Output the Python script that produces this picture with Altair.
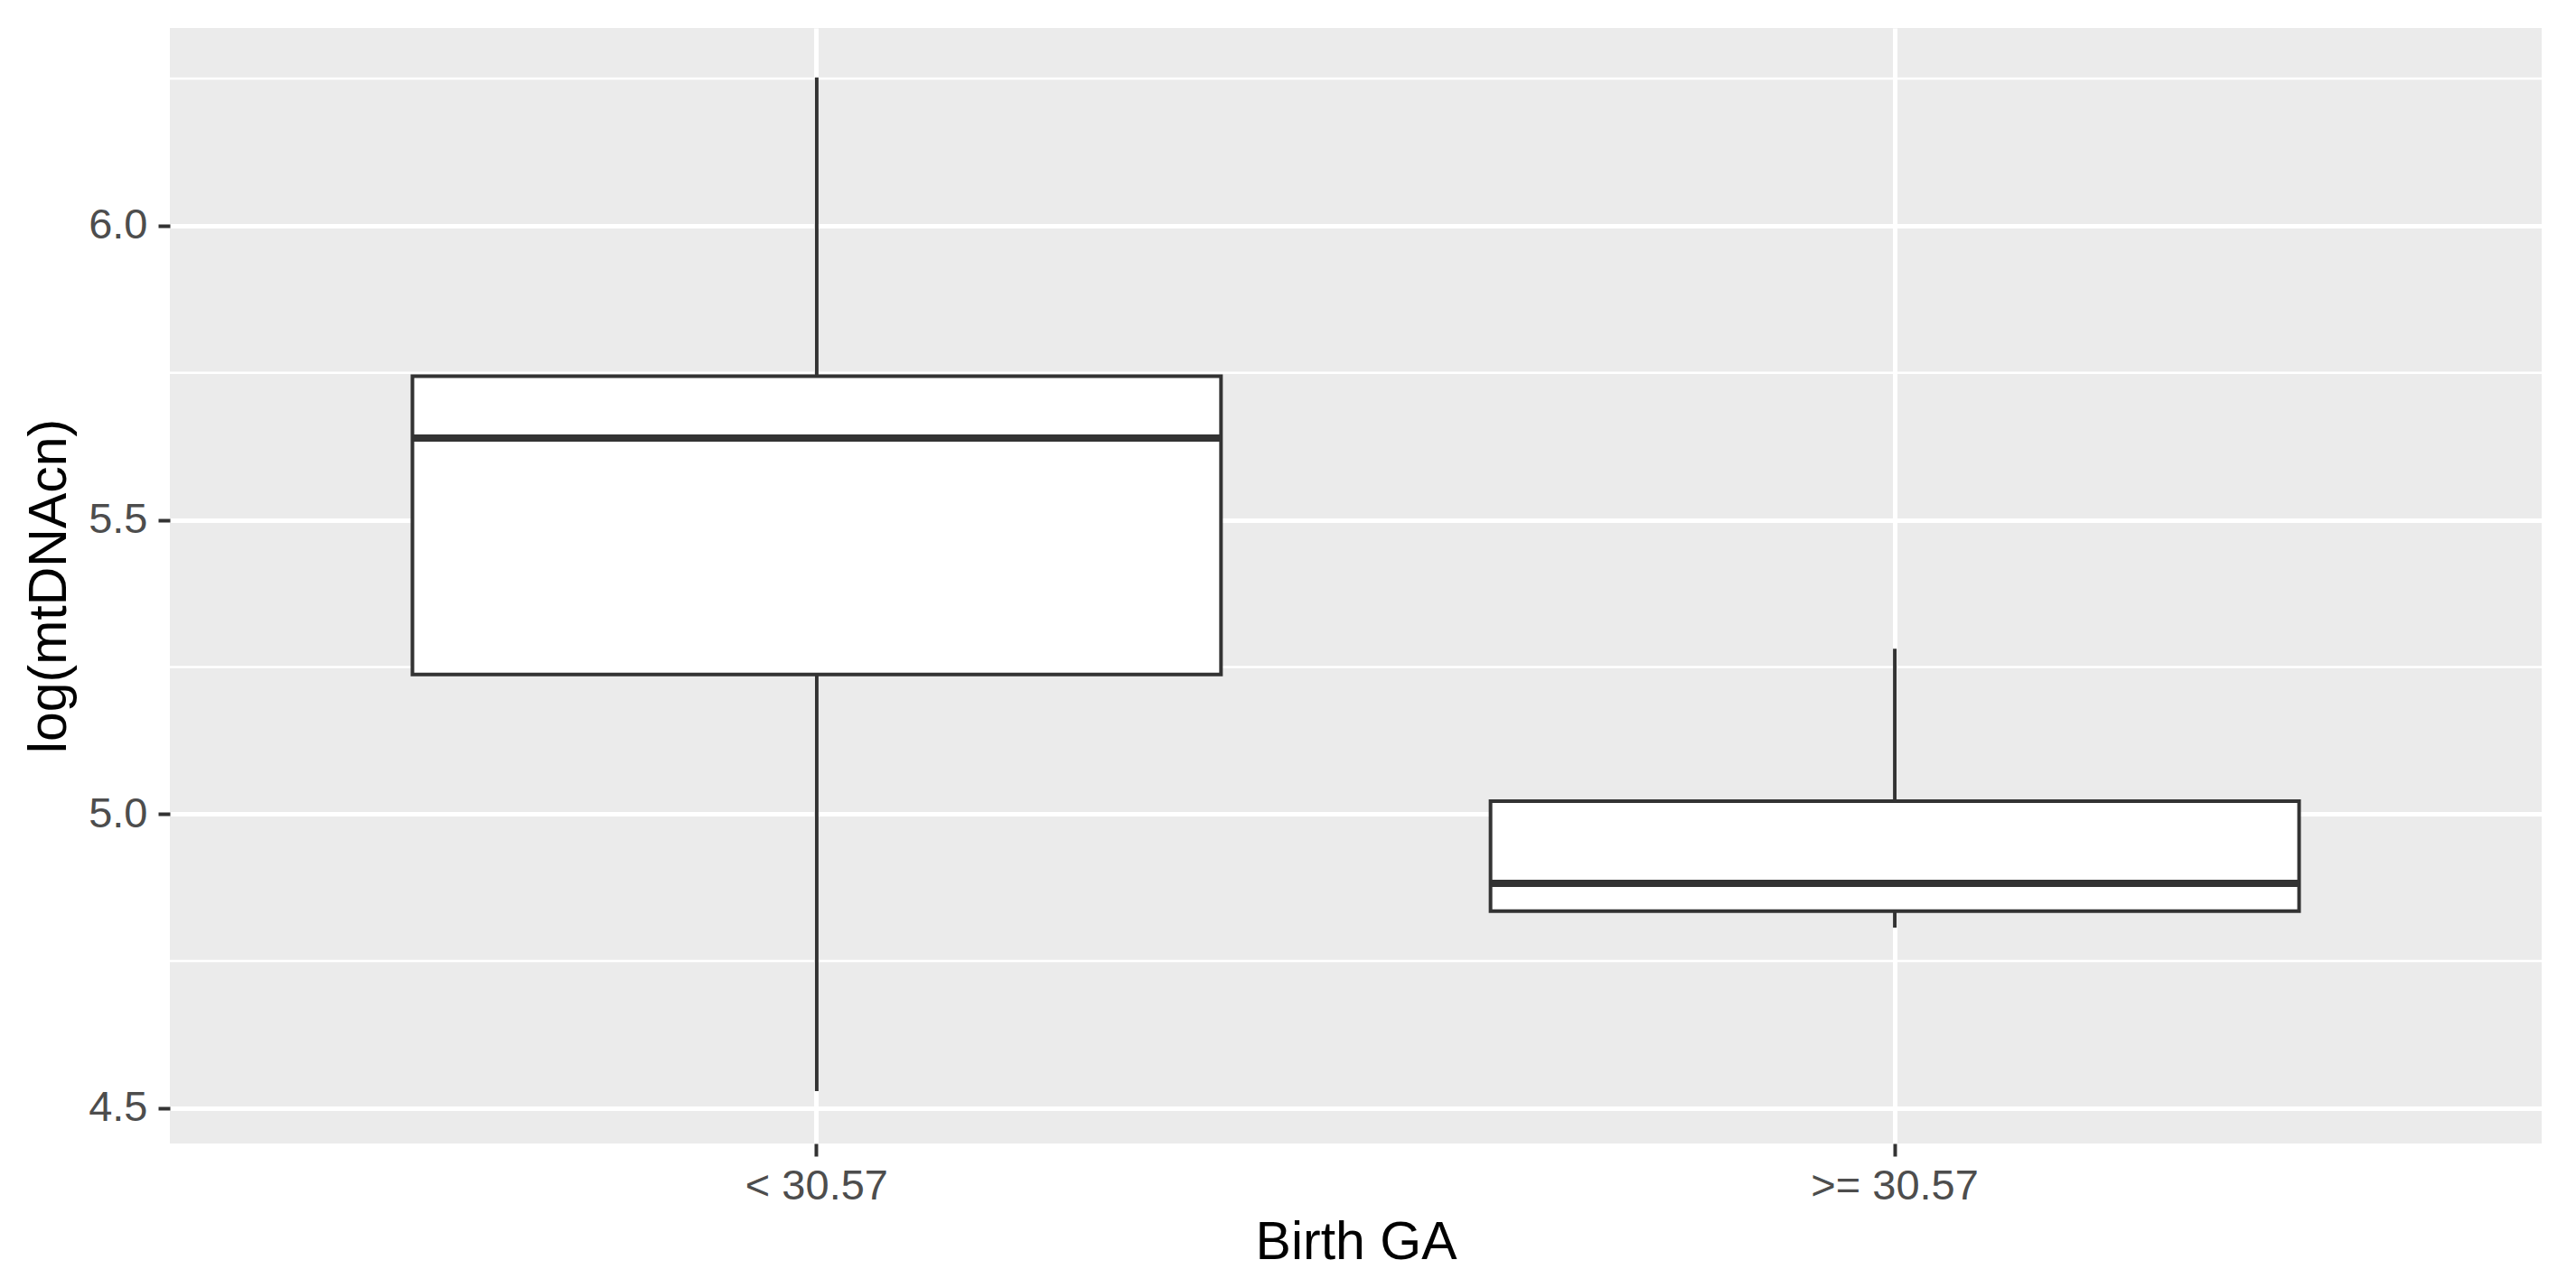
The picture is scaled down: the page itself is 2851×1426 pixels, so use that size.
import altair as alt
import pandas as pd

groups = ["< 30.57", ">= 30.57"]
lower = [4.529, 4.807]
q1 = [5.237, 4.835]
median = [5.639, 4.882]
q3 = [5.744, 5.022]
upper = [6.252, 5.281]

major_ticks = [4.5, 5.0, 5.5, 6.0]
minor_ticks = [4.75, 5.25, 5.75, 6.25]

df = pd.DataFrame({"group": groups, "lower": lower, "q1": q1,
                   "median": median, "q3": q3, "upper": upper})
minor_df = pd.DataFrame({"v": minor_ticks})

W, H = 2625, 1235
FONT = "Liberation Sans"

yscale = alt.Scale(domain=[4.44, 6.336], nice=False, zero=False)
xscale = alt.Scale(domain=groups, paddingInner=0.25, paddingOuter=0.225)

xaxis = alt.Axis(
    title="Birth GA", bandPosition=0.5, grid=True, gridColor="white", gridWidth=5,
    domain=False, ticks=True, tickSize=14, tickWidth=4, tickColor="#333333",
    labelAngle=0, labelFont=FONT, labelFontSize=47, labelColor="#4D4D4D",
    labelPadding=10, labelBaseline="top", labelLimit=0,
    titleFont=FONT, titleFontSize=59, titleFontWeight="normal", titleColor="black",
    titleBaseline="alphabetic", titleX=W / 2, titleY=127, titleAlign="center",
)
yaxis = alt.Axis(
    title="log(mtDNAcn)", values=major_ticks, format=".1f", grid=True,
    gridColor="white", gridWidth=5, domain=False, ticks=True, tickSize=13,
    tickWidth=4, tickColor="#333333", labelLimit=0,
    labelFont=FONT, labelFontSize=47, labelColor="#4D4D4D", labelPadding=12,
    titleFont=FONT, titleFontSize=59, titleFontWeight="normal", titleColor="black",
    titleAngle=-90, titleBaseline="alphabetic", titleAlign="center",
    titleX=-116, titleY=H / 2,
)

minor = alt.Chart(minor_df).mark_rule(color="white", strokeWidth=2.5).encode(
    y=alt.Y("v:Q", scale=yscale, axis=yaxis)
)

whisk = alt.Chart(df).mark_rule(color="#333333", strokeWidth=4).encode(
    x=alt.X("group:N", scale=xscale, axis=xaxis, sort=groups),
    y=alt.Y("lower:Q", scale=yscale),
    y2="upper:Q",
)

box = alt.Chart(df).mark_bar(fill="white", stroke="#333333", strokeWidth=4).encode(
    x=alt.X("group:N", scale=xscale, sort=groups),
    y=alt.Y("q1:Q", scale=yscale),
    y2="q3:Q",
)

med = alt.Chart(df).mark_bar(fill="#333333", stroke="#333333", strokeWidth=8,
                             strokeJoin="bevel").encode(
    x=alt.X("group:N", scale=xscale, sort=groups),
    y=alt.Y("median:Q", scale=yscale),
    y2="median:Q",
)

chart = alt.layer(minor, whisk, box, med).properties(
    width=W, height=H,
    autosize=alt.AutoSizeParams(type="none"),
    padding={"left": 180, "top": 23, "right": 20, "bottom": 160},
).configure_view(fill="#EBEBEB", stroke=None)

chart.save("out.html", embed_options={"renderer": "svg", "actions": False})
